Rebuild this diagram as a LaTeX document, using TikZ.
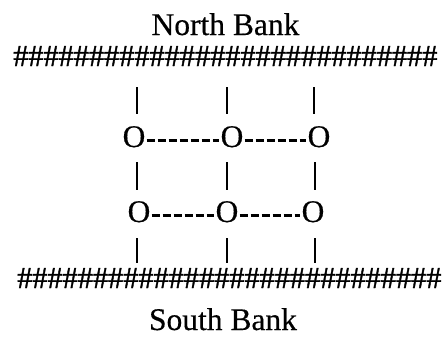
\documentclass[tikz,border=0pt]{standalone}
\usepackage{fontspec}
\setmainfont{Liberation Serif}
\newfontfamily\hashfont[FakeBold=1.2]{Liberation Serif}
\newfontfamily\txtfont[FakeBold=0.4]{Liberation Serif}
\begin{document}
\begin{tikzpicture}[x=1pt,y=-1pt,
  lbl/.style={inner sep=0pt,anchor=base,font=\txtfont\fontsize{31.5}{36}\selectfont},
  hashes/.style={inner sep=0pt,anchor=base west,font=\hashfont\fontsize{30.3}{36}\selectfont},
  atom/.style={inner sep=1pt,anchor=base,font=\txtfont\fontsize{31.5}{36}\selectfont},
  bar/.style={line width=1.5pt},
  dsh/.style={line width=2.6pt,dash pattern=on 8pt off 3pt}]
\useasboundingbox (0,0) rectangle (445,341);
\node[lbl] (north) at (225.5,35) {North Bank};
\node[hashes] (nbank) at (13,66) {\#\#\#\#\#\#\#\#\#\#\#\#\#\#\#\#\#\#\#\#\#\#\#\#\#\#\#\#};
\node[hashes] (sbank) at (17,288) {\#\#\#\#\#\#\#\#\#\#\#\#\#\#\#\#\#\#\#\#\#\#\#\#\#\#\#\#};
\node[lbl] (south) at (223,330) {South Bank};
% atoms
\node[atom] (a11) at (134,147) {O};
\node[atom] (a12) at (232,147) {O};
\node[atom] (a13) at (319,147) {O};
\node[atom] (a21) at (139,222) {O};
\node[atom] (a22) at (227,222) {O};
\node[atom] (a23) at (313,222) {O};
% dashed bonds
\draw[dsh] ([yshift=-4pt]a11.east) -- ([yshift=-4pt]a12.west);
\draw[dsh] ([yshift=-4pt]a12.east) -- ([yshift=-4pt]a13.west);
\draw[dsh] ([yshift=-4pt]a21.east) -- ([yshift=-4pt]a22.west);
\draw[dsh] ([yshift=-4pt]a22.east) -- ([yshift=-4pt]a23.west);
% bar end points
\coordinate (t1a) at (137,87);  \coordinate (t1b) at (137,114);
\coordinate (t2a) at (227,87);  \coordinate (t2b) at (227,114);
\coordinate (t3a) at (314,87);  \coordinate (t3b) at (314,114);
\coordinate (m1a) at (137,162); \coordinate (m1b) at (137,190);
\coordinate (m2a) at (227,162); \coordinate (m2b) at (227,190);
\coordinate (m3a) at (315,162); \coordinate (m3b) at (315,190);
\coordinate (b1a) at (137,238); \coordinate (b1b) at (137,263);
\coordinate (b2a) at (227,238); \coordinate (b2b) at (227,263);
\coordinate (b3a) at (315,238); \coordinate (b3b) at (315,263);
\foreach \p in {t1,t2,t3,m1,m2,m3,b1,b2,b3}
  \draw[bar] (\p a) -- (\p b);
\end{tikzpicture}
\end{document}
